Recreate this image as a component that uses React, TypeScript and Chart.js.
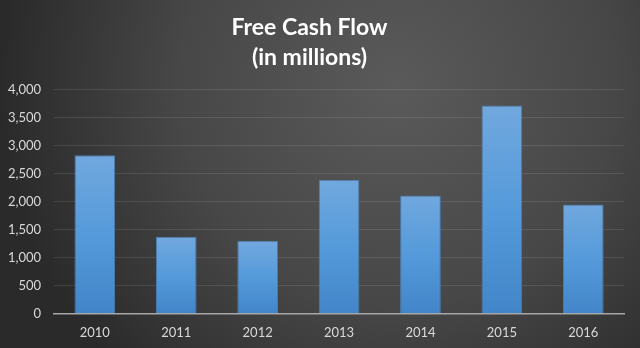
import React, { useEffect, useRef } from "react";
import { Chart, registerables } from "chart.js";

Chart.register(...registerables);

const categories = ["2010", "2011", "2012", "2013", "2014", "2015", "2016"];
const freeCashFlow = [2830, 1370, 1300, 2390, 2110, 3720, 1950];
const titleLines = ["Free Cash Flow", "(in millions)"];
const yMin = 0;
const yMax = 4000;
const yStep = 500;

const FONT = "Lato, 'Open Sans', sans-serif";

const backgroundPlugin = {
  id: "bgGradient",
  beforeDraw(chart: any) {
    const { ctx, width, height } = chart;
    ctx.save();
    const g = ctx.createRadialGradient(width * 0.62, height * 0.25, 0, width * 0.62, height * 0.25, width * 0.62);
    g.addColorStop(0, "#5a5a5a");
    g.addColorStop(0.55, "#474747");
    g.addColorStop(1, "#2a2a2a");
    ctx.fillStyle = g;
    ctx.fillRect(0, 0, width, height);
    ctx.restore();
  },
};

export default function App() {
  const ref = useRef<HTMLCanvasElement | null>(null);
  useEffect(() => {
    document.body.style.margin = "0";
    const canvas = ref.current;
    if (!canvas) return;
    const chart = new Chart(canvas, {
      type: "bar",
      data: {
        labels: categories,
        datasets: [
          {
            data: freeCashFlow,
            backgroundColor: (c: any) => {
              const ch = c.chart;
              const ys = ch.scales?.y;
              if (!ys || c.parsed == null) return "#5b9bd5";
              const top = ys.getPixelForValue(c.parsed.y);
              const base = ys.getPixelForValue(0);
              if (!isFinite(top) || !isFinite(base) || top === base) return "#5b9bd5";
              const g = ch.ctx.createLinearGradient(0, top, 0, base);
              g.addColorStop(0, "#71a8de");
              g.addColorStop(0.5, "#559ada");
              g.addColorStop(1, "#4286c9");
              return g;
            },
            borderColor: "#4a7db0",
            borderWidth: 1,
            barPercentage: 0.5,
            categoryPercentage: 1,
          },
        ],
      },
      options: {
        animation: false,
        responsive: false,
        maintainAspectRatio: false,
        layout: { padding: { left: -5, right: 16, top: 0, bottom: -5 } },
        plugins: {
          legend: { display: false },
          tooltip: { enabled: false },
          title: {
            display: true,
            text: titleLines,
            color: "#ffffff",
            font: { family: FONT, size: 23, weight: "bold", lineHeight: 1.3 },
            padding: { top: 13, bottom: 17 },
          },
        },
        scales: {
          x: {
            grid: { display: false, drawTicks: false },
            border: { display: true, color: "#a6a6a6", width: 1.5 },
            ticks: { color: "#d9d9d9", font: { family: FONT, size: 13 }, padding: 12 },
          },
          y: {
            min: yMin,
            max: yMax,
            grid: { color: "rgba(255,255,255,0.1)", drawTicks: false, lineWidth: 1 },
            border: { display: false },
            ticks: {
              stepSize: yStep,
              color: "#d9d9d9",
              font: { family: FONT, size: 13 },
              padding: 13,
              callback: (v: any) => Number(v).toLocaleString("en-US"),
            },
          },
        },
      },
      plugins: [backgroundPlugin],
    });
    return () => chart.destroy();
  }, []);
  return (
    <div style={{ width: 640, height: 348 }}>
      <canvas ref={ref} width={640} height={348} style={{ display: "block" }} />
    </div>
  );
}
